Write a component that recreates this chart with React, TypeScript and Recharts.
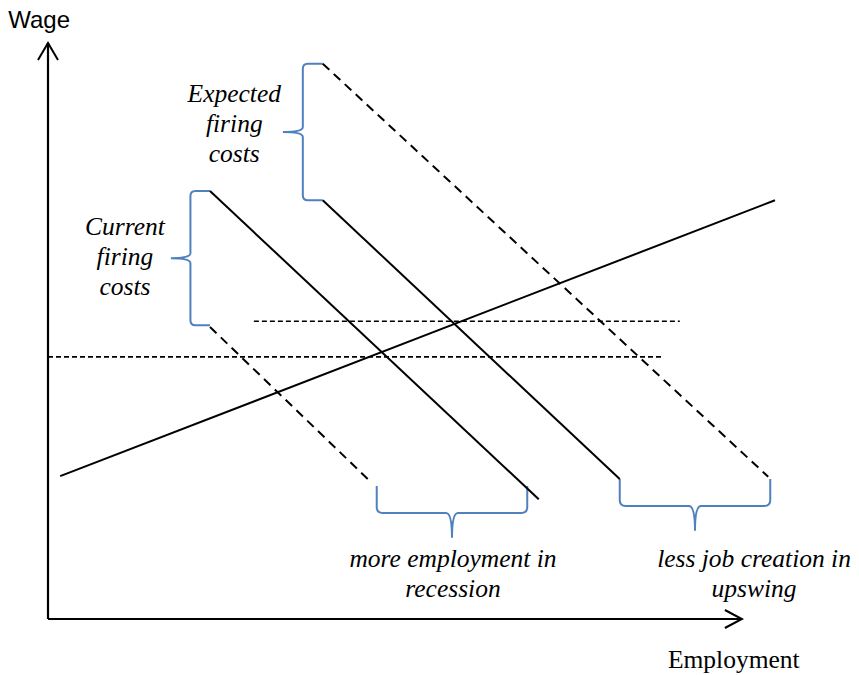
import { LineChart, Line, XAxis, YAxis, ReferenceArea, ReferenceDot } from 'recharts'

// values in chart units: employment 0..120, wage 0..100
type Pt = { e: number; w: number }

const xAxisLine: Pt[] = [{ e: 0, w: 0 }, { e: 102.8, w: 0 }]
const yAxisLine: Pt[] = [{ e: 0, w: 0 }, { e: 0, w: 100 }]

const laborSupply: Pt[] = [{ e: 1.8, w: 24.8 }, { e: 107.7, w: 72.7 }]
const demandCurrent: Pt[] = [{ e: 24.0, w: 74.3 }, { e: 72.7, w: 20.8 }]
const demandCurrentNoCost: Pt[] = [{ e: 24.0, w: 50.7 }, { e: 48.0, w: 23.6 }]
const demandExpected: Pt[] = [{ e: 40.7, w: 72.7 }, { e: 84.7, w: 24.3 }]
const demandExpectedNoCost: Pt[] = [{ e: 40.7, w: 96.4 }, { e: 106.7, w: 24.7 }]
const wageHigh: Pt[] = [{ e: 30.5, w: 51.7 }, { e: 93.6, w: 51.7 }]
const wageLow: Pt[] = [{ e: 0, w: 45.5 }, { e: 91.0, w: 45.5 }]

// braces: [e1, e2, w1, w2]
const braceCurrent = [18.2, 24.0, 51.0, 74.3]
const braceExpected = [34.8, 40.7, 72.7, 96.4]
const braceRecession = [48.7, 71.0, 14.1, 23.1]
const braceUpswing = [84.7, 107.0, 15.3, 24.3]

// text blocks: anchor (centre, first baseline)
const labels = [
  { e: 27.6, w: 89.8, lines: ['Expected', 'firing', 'costs'] },
  { e: 11.4, w: 66.7, lines: ['Current', 'firing', 'costs'] },
  { e: 60.0, w: 9.0, lines: ['more employment in', 'recession'] },
  { e: 104.6, w: 9.0, lines: ['less job creation in', 'upswing'] },
]

const BLUE = '#4f81bd'
const SERIF = "'Liberation Serif', 'Times New Roman', serif"

const leftBrace = (p: any) => {
  const { x, y, width, height } = p
  const L = x, R = x + width, T = y, B = y + height
  const S = L + width * 0.5
  const C = T + height / 2
  const r = 5
  const d = `M${R},${T} L${S + r},${T} Q${S},${T} ${S},${T + r} L${S},${C - r} Q${S},${C} ${L},${C} Q${S},${C} ${S},${C + r} L${S},${B - r} Q${S},${B} ${S + r},${B} L${R},${B}`
  return <path d={d} fill="none" stroke={BLUE} strokeWidth={2} />
}

const downBrace = (p: any) => {
  const { x, y, width, height } = p
  const L = x, R = x + width, T = y, B = y + height
  const S = T + height * 0.52
  const C = L + width / 2
  const r = 6
  const d = `M${L},${T} L${L},${S - r} Q${L},${S} ${L + r},${S} L${C - r},${S} Q${C},${S} ${C},${B} M${C},${B} Q${C},${S} ${C + r},${S} L${R - r},${S} Q${R},${S} ${R},${S - r} L${R},${T}`
  return <path d={d} fill="none" stroke={BLUE} strokeWidth={2} />
}

const textBlock = (lines: string[]) => (p: any) => (
  <text
    x={p.cx}
    y={p.cy}
    textAnchor="middle"
    fontFamily={SERIF}
    fontStyle="italic"
    fontSize={25.5}
    fill="#000"
  >
    {lines.map((t, i) => (
      <tspan key={i} x={p.cx} dy={i === 0 ? 0 : 30}>
        {t}
      </tspan>
    ))}
  </text>
)

const seg = (data: Pt[], dash?: string, width = 2) => (
  <Line
    data={data}
    dataKey="w"
    type="linear"
    stroke="#000"
    strokeWidth={width}
    strokeDasharray={dash}
    dot={false}
    activeDot={false}
    legendType="none"
    isAnimationActive={false}
  />
)

export default function App() {
  return (
    <div style={{ position: 'absolute', left: 0, top: 0, width: 859, height: 675, background: '#fff' }}>
      <LineChart width={859} height={675} margin={{ top: 43, right: 1, bottom: 56, left: 48 }}>
        <XAxis type="number" dataKey="e" domain={[0, 120]} hide />
        <YAxis type="number" dataKey="w" domain={[0, 100]} hide />

        {seg(xAxisLine, undefined, 2.2)}
        {seg(yAxisLine, undefined, 2.2)}
        {seg(wageHigh, '5 3', 1.6)}
        {seg(wageLow, '5 3', 1.6)}
        {seg(laborSupply)}
        {seg(demandCurrent)}
        {seg(demandCurrentNoCost, '9 6')}
        {seg(demandExpected)}
        {seg(demandExpectedNoCost, '9 6')}

        <ReferenceDot
          x={xAxisLine[1].e}
          y={xAxisLine[1].w}
          ifOverflow="visible"
          shape={(p: any) => (
            <path d={`M${p.cx - 17},${p.cy - 9} L${p.cx},${p.cy} L${p.cx - 17},${p.cy + 9}`} fill="none" stroke="#000" strokeWidth={2} />
          )}
        />
        <ReferenceDot
          x={yAxisLine[1].e}
          y={yAxisLine[1].w}
          ifOverflow="visible"
          shape={(p: any) => (
            <path d={`M${p.cx - 10},${p.cy + 17} L${p.cx},${p.cy} L${p.cx + 10},${p.cy + 17}`} fill="none" stroke="#000" strokeWidth={2} />
          )}
        />

        <ReferenceArea x1={braceCurrent[0]} x2={braceCurrent[1]} y1={braceCurrent[2]} y2={braceCurrent[3]} ifOverflow="visible" shape={leftBrace} />
        <ReferenceArea x1={braceExpected[0]} x2={braceExpected[1]} y1={braceExpected[2]} y2={braceExpected[3]} ifOverflow="visible" shape={leftBrace} />
        <ReferenceArea x1={braceRecession[0]} x2={braceRecession[1]} y1={braceRecession[2]} y2={braceRecession[3]} ifOverflow="visible" shape={downBrace} />
        <ReferenceArea x1={braceUpswing[0]} x2={braceUpswing[1]} y1={braceUpswing[2]} y2={braceUpswing[3]} ifOverflow="visible" shape={downBrace} />

        {labels.map((l, i) => (
          <ReferenceDot key={i} x={l.e} y={l.w} ifOverflow="visible" shape={textBlock(l.lines)} />
        ))}

        <ReferenceDot
          x={-5.9}
          y={102.6}
          ifOverflow="visible"
          shape={(p: any) => (
            <text x={p.cx} y={p.cy} fontFamily="'Liberation Sans', Arial, sans-serif" fontSize={24} fill="#000">
              Wage
            </text>
          )}
        />
        <ReferenceDot
          x={101.6}
          y={-8.5}
          ifOverflow="visible"
          shape={(p: any) => (
            <text x={p.cx} y={p.cy} textAnchor="middle" fontFamily={SERIF} fontSize={25.5} fill="#000">
              Employment
            </text>
          )}
        />
      </LineChart>
    </div>
  )
}
